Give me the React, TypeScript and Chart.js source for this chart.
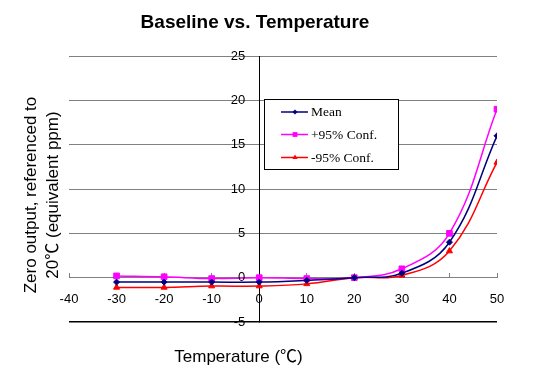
import React, { useEffect, useRef } from 'react';
import { Chart, registerables } from 'chart.js';

Chart.register(...registerables);

// ---- data ----
const temperatures = [-30, -20, -10, 0, 10, 20, 30, 40, 50];
const meanValues = [-0.5, -0.5, -0.5, -0.5, -0.3, 0, 0.5, 4, 16];
const upperValues = [0.2, 0.1, -0.1, 0, -0.1, 0, 1, 5, 19];
const lowerValues = [-1.1, -1.1, -0.95, -0.95, -0.7, 0, 0.25, 3, 13];
const seriesLabels = ['Mean', '+95% Conf.', '-95% Conf.'];
const xRange = [-40, 50];
const yRange = [-5, 25];
const xStep = 10;
const yStep = 5;
const chartTitle = 'Baseline vs. Temperature';
const xAxisTitle = 'Temperature (℃)';
const yAxisTitle = ['Zero output, referenced to', '20℃ (equivalent ppm)'];

const SANS = '"Liberation Sans", Arial, "Noto Sans CJK SC", sans-serif';
const TICK_FONT = `13px ${SANS}`;
const LEGEND_FONT = '13.5px "Liberation Serif", "Times New Roman", serif';

function drawMarker(ctx: CanvasRenderingContext2D, style: string, r: number, x: number, y: number, color: string) {
  ctx.fillStyle = color;
  ctx.beginPath();
  if (style === 'rectRot') {
    ctx.moveTo(x - r, y);
    ctx.lineTo(x, y - r);
    ctx.lineTo(x + r, y);
    ctx.lineTo(x, y + r);
  } else if (style === 'rect') {
    const s = Math.SQRT1_2 * r;
    ctx.rect(x - s, y - s, 2 * s, 2 * s);
  } else {
    let a = 0;
    ctx.moveTo(x + Math.sin(a) * r, y - Math.cos(a) * r);
    a += (2 * Math.PI) / 3;
    ctx.lineTo(x + Math.sin(a) * r, y - Math.cos(a) * r);
    a += (2 * Math.PI) / 3;
    ctx.lineTo(x + Math.sin(a) * r, y - Math.cos(a) * r);
  }
  ctx.closePath();
  ctx.fill();
}

const decorPlugin = {
  id: 'decor',
  afterDraw(chart: any) {
    const { ctx, scales } = chart;
    const xs = scales.x;
    const ys = scales.y;
    ctx.save();

    // y tick labels beside the crossing axis
    const axisX = xs.getPixelForValue(0);
    ctx.fillStyle = '#000';
    ctx.font = TICK_FONT;
    ctx.textAlign = 'right';
    ctx.textBaseline = 'middle';
    ys.ticks.forEach((t: any) => {
      ctx.fillText(String(t.value), axisX - 14, ys.getPixelForValue(t.value));
    });

    // chart title
    ctx.font = `bold 19px ${SANS}`;
    ctx.textAlign = 'center';
    ctx.textBaseline = 'alphabetic';
    ctx.fillText(chartTitle, 255, 28);

    // x axis title
    ctx.font = `17px ${SANS}`;
    ctx.fillText(xAxisTitle, 238.5, 362);

    // y axis title (two lines, rotated)
    const lineX = [35.5, 57.5];
    yAxisTitle.forEach((line, i) => {
      ctx.save();
      ctx.translate(lineX[i], 195);
      ctx.rotate(-Math.PI / 2);
      ctx.fillText(line, 0, 0);
      ctx.restore();
    });

    // legend
    const bx = 264.5, by = 99.5, bw = 134, bh = 70;
    ctx.fillStyle = '#fff';
    ctx.fillRect(bx, by, bw, bh);
    ctx.strokeStyle = '#000';
    ctx.lineWidth = 1;
    ctx.strokeRect(bx, by, bw, bh);
    const rows = [112, 134.5, 157.5];
    ctx.font = LEGEND_FONT;
    ctx.textAlign = 'left';
    ctx.textBaseline = 'middle';
    chart.data.datasets.forEach((ds: any, i: number) => {
      const y = rows[i];
      ctx.strokeStyle = ds.borderColor;
      ctx.lineWidth = 1.5;
      ctx.beginPath();
      ctx.moveTo(281, y);
      ctx.lineTo(308, y);
      ctx.stroke();
      drawMarker(ctx, ds.pointStyle, ds.pointRadius * 0.85, 295, y, ds.borderColor);
      ctx.fillStyle = '#000';
      ctx.fillText(ds.label, 311, y + 0.5);
    });

    ctx.restore();
  },
};

function toPoints(values: number[]) {
  return temperatures.map((t, i) => ({ x: t, y: values[i] }));
}

export default function App() {
  const canvasRef = useRef<HTMLCanvasElement | null>(null);

  useEffect(() => {
    if (!canvasRef.current) return;
    const chart = new Chart(canvasRef.current, {
      type: 'line',
      data: {
        datasets: [
          {
            label: seriesLabels[0],
            data: toPoints(meanValues),
            borderColor: '#000080',
            backgroundColor: '#000080',
            pointStyle: 'rectRot',
            pointRadius: 3,
            borderWidth: 1.5,
            pointBorderWidth: 1,
            tension: 0.4,
          },
          {
            label: seriesLabels[1],
            data: toPoints(upperValues),
            borderColor: '#FF00FF',
            backgroundColor: '#FF00FF',
            pointStyle: 'rect',
            pointRadius: 4,
            borderWidth: 1.5,
            pointBorderWidth: 1,
            tension: 0.4,
          },
          {
            label: seriesLabels[2],
            data: toPoints(lowerValues),
            borderColor: '#FF0000',
            backgroundColor: '#FF0000',
            pointStyle: 'triangle',
            pointRadius: 3.5,
            borderWidth: 1.5,
            pointBorderWidth: 1,
            tension: 0.4,
          },
        ],
      },
      options: {
        responsive: false,
        animation: false,
        devicePixelRatio: 1,
        layout: { padding: { left: 69, right: 36, top: 56, bottom: 50 } },
        plugins: {
          legend: { display: false },
          title: { display: false },
          tooltip: { enabled: false },
        },
        scales: {
          x: {
            type: 'linear',
            position: { y: 0 } as any,
            min: xRange[0],
            max: xRange[1],
            afterFit: (s: any) => { s.height = 0; },
            ticks: {
              stepSize: xStep,
              color: '#000',
              font: { family: SANS, size: 13 },
              padding: 19,
              maxRotation: 0,
            },
            grid: {
              display: true,
              drawOnChartArea: false,
              drawTicks: true,
              tickLength: -5,
              color: '#808080',
            },
            border: { display: true, color: '#808080', width: 1 },
          },
          y: {
            type: 'linear',
            position: { x: 0 } as any,
            min: yRange[0],
            max: yRange[1],
            afterFit: (s: any) => { s.width = 0; },
            ticks: { stepSize: yStep, display: false },
            grid: {
              display: true,
              drawTicks: false,
              color: (c: any) => (c.tick && c.tick.value === yRange[0] ? '#000' : '#808080'),
              lineWidth: (c: any) => (c.tick && c.tick.value === yRange[0] ? 1.5 : 1),
            },
            border: { display: true, color: '#000', width: 1 },
          },
        },
      },
      plugins: [decorPlugin],
    });
    return () => chart.destroy();
  }, []);

  return (
    <div style={{ position: 'absolute', left: 0, top: 0, width: 533, height: 372, background: '#fff' }}>
      <canvas ref={canvasRef} width={533} height={372} style={{ display: 'block' }} />
    </div>
  );
}
